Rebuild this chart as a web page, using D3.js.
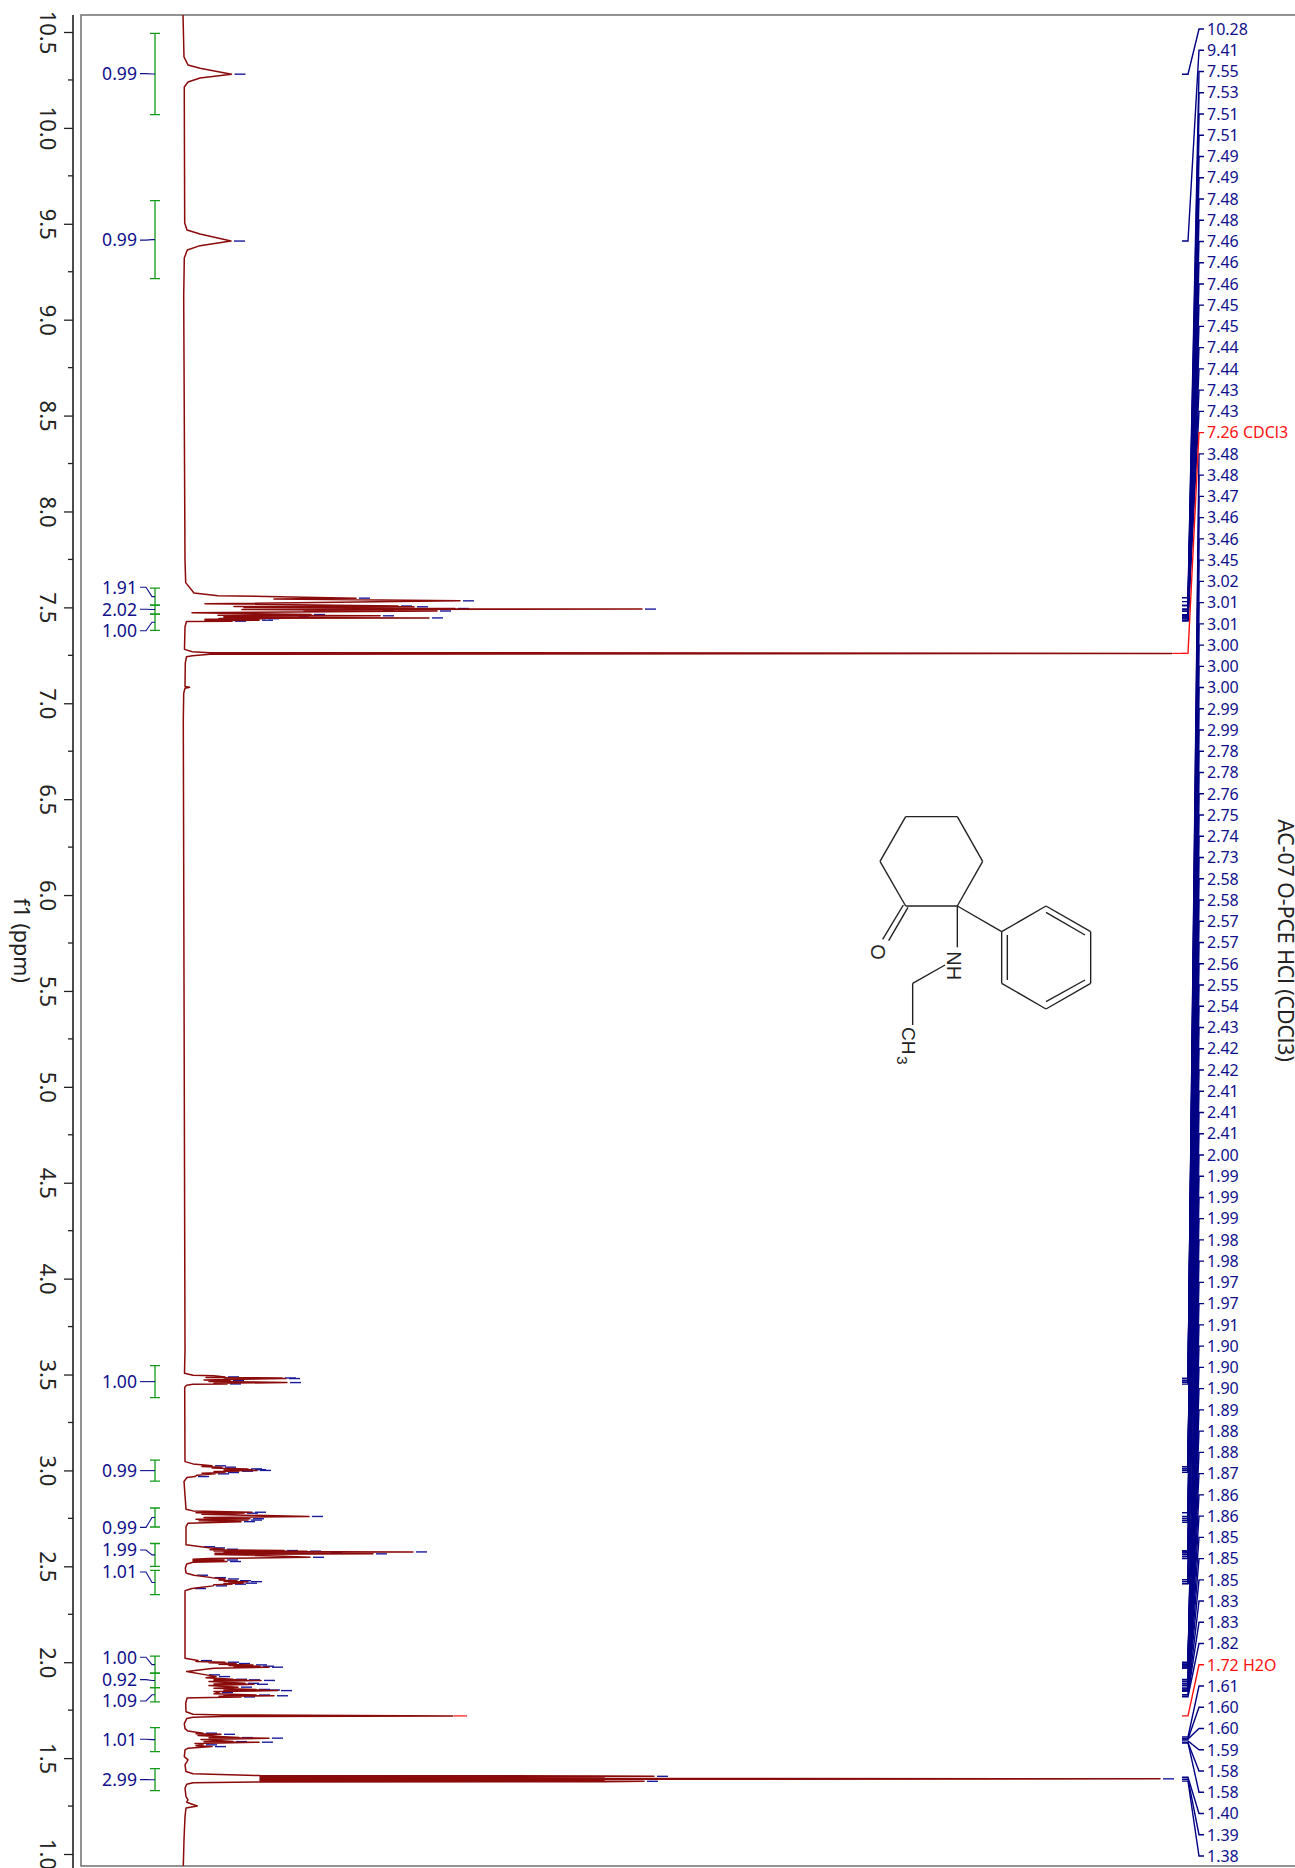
<!DOCTYPE html>
<html>
<head>
<meta charset="utf-8">
<style>
html,body{margin:0;padding:0;background:#fff;overflow:hidden}
svg{display:block}
text{font-family:"Noto Sans",sans-serif}
</style>
<script src="https://cdn.jsdelivr.net/npm/d3@7"></script>
</head>
<body>
<svg id="c" width="1295" height="1868"></svg>
<script>
// ---------- DATA ----------
const titleText = "AC-07 O-PCE HCl (CDCl3)";
const axisTitle = "f1 (ppm)";
const majorTicks = [10.5,10,9.5,9,8.5,8,7.5,7,6.5,6,5.5,5,4.5,4,3.5,3,2.5,2,1.5,1];
const minorTicks = [10.25,9.75,9.25,8.75,8.25,7.75,7.25,6.75,6.25,5.75,5.25,4.75,4.25,3.75,3.25,2.75,2.25,1.75,1.25];

// spectrum trace: chemical shift (ppm) and height
const specPpm = [10.589,10.370,10.328,10.311,10.280,10.260,10.239,10.213,10.145,9.504,9.468,9.447,9.410,9.386,9.363,9.322,9.118,7.747,7.629,7.575,7.561,7.552,7.548,7.543,7.534,7.519,7.507,7.5045,7.503,7.499,7.494,7.4925,7.491,7.489,7.484,7.4825,7.481,7.472,7.4625,7.459,7.456,7.453,7.4505,7.448,7.445,7.4425,7.441,7.4385,7.436,7.4345,7.433,7.4305,7.428,7.426,7.399,7.288,7.281,7.269,7.264,7.26,7.256,7.248,7.243,7.209,7.087,7.083,7.078,7.052,6.913,3.628,
3.507,3.496,3.493,3.4875,3.485,3.482,3.481,3.479,3.472,3.468,3.464,3.458,3.4545,3.451,3.449,3.444,3.434,3.046,3.034,3.024,3.021,3.017,3.013,3.008,3.006,3.004,3.002,3.000,2.998,2.996,2.994,2.989,2.985,2.982,2.975,2.968,2.963,2.942,2.798,2.789,2.782,2.7795,2.777,2.771,2.760,2.754,2.748,2.745,2.741,2.737,2.733,2.725,2.707,
2.612,2.602,2.596,2.589,2.586,2.582,2.5805,2.579,2.5775,2.575,2.573,2.571,2.568,2.565,2.562,2.553,2.547,2.541,2.537,2.533,2.529,2.525,2.521,2.5125,2.490,2.467,2.464,2.4535,2.441,2.434,2.429,2.425,2.422,2.420,2.416,2.412,2.410,2.407,2.404,2.398,2.391,2.384,2.377,2.372,2.361,
2.021,2.0085,2.004,2.000,1.997,1.993,1.990,1.986,1.983,1.979,1.976,1.974,1.969,1.951,1.934,1.925,1.919,1.911,1.909,1.908,1.9065,1.905,1.900,1.890,1.887,1.885,1.878,1.870,1.864,1.858,1.856,1.855,1.8535,1.852,1.847,1.8415,1.835,1.829,1.827,1.825,1.822,1.819,1.815,1.813,1.786,1.742,1.729,1.7252,1.72,1.7165,1.713,1.706,1.680,1.654,1.641,1.63,1.6275,1.624,1.618,1.607,1.606,1.604,1.597,1.586,1.585,1.583,1.576,1.569,1.565,1.56,1.552,1.543,1.508,1.491,1.465,1.430,1.418,1.409,1.407,1.405,1.402,1.400,1.396,1.392,1.388,1.386,1.383,1.379,1.377,1.376,1.372,1.364,1.343,1.299,1.282,1.270,1.250,1.240,1.195,1.074,0.938];
const specInt = [-1,0,4,16,47.5,16,4,0.3,0.3,0.7,3,16,47,16,3.3,0.3,-0.3,1,1.7,10,34,133,172,90,276,21,214,50,230,60,271,200,458,58,196,120,253,8,127,34,196,40,111,40,245,35,81,21,54,21,75,21,48,2.5,1,0.5,0.5,8.4,26,988,26,8.4,2.5,1.3,1,5.6,1,-0.3,-0.7,1,
0.5,9,30,41,22,98,40,102,20,46,25,103,30,43,9,2.7,0.7,1,9,28,18,38,28,64,40,68,45,73,40,55,30,41,18,31,13,11,3,0,2,9,68,12,60,18,125,20,66,12,64,15,57,4,2,
2,17,27,40,26,100,30,123,40,229,40,144,31,189,31,100,126,25,9,40,9,43,9,2.7,1.3,2,2.7,10,28,41,35,53,40,64,45,59,40,48,30,29,18,8,3,1,1,
1,14,12,41,25,52,35,69,45,76,50,85,30,2.7,22,32,22,49,30,62,30,77,25,61,30,70,25,54,30,72,40,82,40,94,30,35,30,72,40,90,35,57,12,3,1.7,2,9,39,269,39,9,2.7,0.3,1,4,19,12,37,14,55,25,85,17,49,20,75,11,19,12,28,4,1,0.3,4,1,2,9,76,420,470,76,420,76,976,76,420,76,460,420,76,9,2.7,1,2,4,2.7,13.3,2,1,0,-0.7];

// picked peaks: position and height at each tip
const peakPpm = [10.28,9.41,7.548,7.534,7.507,7.503,7.494,7.491,7.484,7.481,7.4625,7.456,7.4505,7.445,7.441,7.436,7.433,7.428,
3.4875,3.482,3.479,3.468,3.458,3.451,3.024,3.017,3.008,3.004,3.000,2.996,2.989,2.982,2.968,2.782,2.777,2.760,2.748,2.741,2.733,
2.602,2.596,2.589,2.582,2.579,2.575,2.571,2.565,2.547,2.533,2.525,2.4535,2.441,2.434,2.425,2.420,2.412,2.407,2.398,2.384,
2.0085,2.000,1.993,1.986,1.979,1.974,1.934,1.925,1.911,1.908,1.905,1.890,1.885,1.870,1.858,1.855,1.852,1.8415,1.829,1.825,1.819,1.63,1.624,1.607,1.604,1.586,1.583,1.569,1.56,1.405,1.392,1.379];
const peakInt = [47.5,47,172,276,214,230,271,458,196,253,127,196,111,245,81,54,75,48,
41,98,102,46,103,43,28,38,64,68,73,55,41,31,11,68,60,125,66,64,57,
17,27,40,100,123,229,144,189,126,40,43,10,28,41,53,64,59,48,29,8,
14,41,52,69,76,85,22,32,49,62,77,61,70,54,72,82,94,35,72,90,57,19,37,55,85,49,75,19,28,470,976,460];
const solventPpm = [7.26,1.72];
const solventInt = [988,269];

// peak labels, top to bottom
const peakLabels = ["10.28","9.41","7.55","7.53","7.51","7.51","7.49","7.49","7.48","7.48","7.46","7.46","7.46","7.45","7.45","7.44","7.44","7.43","7.43","7.26 CDCl3","3.48","3.48","3.47","3.46","3.46","3.45","3.02","3.01","3.01","3.00","3.00","3.00","2.99","2.99","2.78","2.78","2.76","2.75","2.74","2.73","2.58","2.58","2.57","2.57","2.56","2.55","2.54","2.43","2.42","2.42","2.41","2.41","2.41","2.00","1.99","1.99","1.99","1.98","1.98","1.97","1.97","1.91","1.90","1.90","1.90","1.89","1.88","1.88","1.87","1.86","1.86","1.85","1.85","1.85","1.83","1.83","1.82","1.72 H2O","1.61","1.60","1.60","1.59","1.58","1.58","1.40","1.39","1.38"];

// integrals: value, range in ppm, label anchor in ppm
const intValues = ["0.99","0.99","1.91","2.02","1.00","1.00","0.99","0.99","1.99","1.01","1.00","0.92","1.09","1.01","2.99"];
const intFrom  = [10.493,9.621,7.600,7.512,7.465,3.546,3.054,2.804,2.619,2.479,2.032,1.943,1.867,1.659,1.445];
const intTo    = [10.069,9.214,7.512,7.465,7.380,3.380,2.944,2.705,2.500,2.352,1.943,1.867,1.793,1.534,1.330];
const intLabel = [10.283,9.415,7.605,7.490,7.378,3.463,2.999,2.703,2.585,2.470,2.026,1.909,1.798,1.598,1.388];

// molecule drawing, in its own drawing units
const bondFrom = [[197,80],[352,80],[428,214],[352,348],[197,348],[120,214],[190,345],[204,352],[352,348],[352,348],[485,425],[618,348],[752,425],[752,580],[618,657],[485,580],[502,435],[618,367],[618,635],[315,525],[218,580]];
const bondTo   = [[352,80],[428,214],[352,348],[197,348],[120,214],[197,80],[128,448],[146,452],[485,425],[352,472],[618,348],[752,425],[752,580],[618,657],[485,580],[485,425],[502,570],[735,435],[735,570],[218,580],[218,705]];

// ---------- SCALES ----------
const svg = d3.select("#c");
const y = d3.scaleLinear().domain([10.5,1.0]).range([32,1854]);
const x = d3.scaleLinear().domain([0,1000]).range([184,1184]);
const row = d3.scalePoint().domain(d3.range(peakLabels.length)).range([29,1856]);
const molX = d3.scaleLinear().domain([0,900]).range([840,1140]);
const molY = d3.scaleLinear().domain([0,870]).range([790,1080]);

const BLUE = "#10108c", DARK = "#8b0a0a", GREEN = "#109a18", RED = "#ff1010";

// ---------- FRAME + AXIS ----------
svg.append("rect").attr("x",81).attr("y",15).attr("width",1400).attr("height",1851)
  .attr("fill","none").attr("stroke","#777").attr("stroke-width",1.6);

const axis = svg.append("g").attr("transform","translate(73,0)")
  .call(d3.axisLeft(y).tickValues(majorTicks).tickSize(9).tickFormat(d3.format(".1f")));
axis.select(".domain").attr("d","M0,15V1868").attr("stroke","#111").attr("stroke-width",1.5);
axis.selectAll(".tick line").attr("stroke","#222").attr("stroke-width",1.3);
axis.selectAll(".tick text")
  .attr("x",null).attr("y",null).attr("dy",null)
  .attr("text-anchor","middle")
  .attr("transform","translate(-33,0) rotate(90)")
  .style("font-size","22px").style("font-family",'"Noto Sans",sans-serif').attr("fill","#222");
axis.selectAll(".minor").data(minorTicks).enter().append("line").attr("class","minor")
  .attr("x1",-5).attr("x2",0).attr("y1",d=>y(d)).attr("y2",d=>y(d))
  .attr("stroke","#222").attr("stroke-width",1.3);

svg.append("text").text(axisTitle).attr("transform","translate(14,940.5) rotate(90)")
  .attr("text-anchor","middle").style("font-size","21.5px").attr("fill","#222");
svg.append("text").text(titleText).attr("transform","translate(1278,940.5) rotate(90)")
  .attr("text-anchor","middle").style("font-size","21.2px").attr("fill","#222");

// ---------- INTEGRALS ----------
const ig = svg.append("g");
intValues.forEach((v,i)=>{
  const y0=y(intFrom[i]), y1=y(intTo[i]), ly=y(intLabel[i]), mid=(y0+y1)/2;
  ig.append("path").attr("d",d3.line()([[150,y0],[160,y0]])+d3.line()([[155,y0],[155,y1]])+d3.line()([[150,y1],[160,y1]]))
    .attr("stroke",GREEN).attr("stroke-width",1.3).attr("fill","none");
  ig.append("path").attr("d",d3.line()([[140,ly],[146,ly],[152,mid],[155,mid]]))
    .attr("stroke",BLUE).attr("stroke-width",1.1).attr("fill","none");
  ig.append("text").text(v).attr("x",137).attr("y",ly).attr("dy",".36em").attr("text-anchor","end")
    .style("font-size","17.6px").attr("fill",BLUE);
});

// ---------- PEAK LABELS + CONNECTORS ----------
const lg = svg.append("g");
const connector = d3.line();
peakLabels.forEach((t,i)=>{
  const p = parseFloat(t), yp=y(p), yr=row(i), red=t.includes(" ");
  lg.append("path").attr("d",connector([[1182,yp],[1188,yp],[1199,yr],[1204,yr]]))
    .attr("fill","none").attr("stroke",red?RED:"#000085").attr("stroke-width",1.4)
    .attr("data-red",red?1:0);
  lg.append("text").text(t).attr("x",1207).attr("y",yr).attr("dy",".36em")
    .style("font-size","16px").attr("fill",red?RED:BLUE);
});
lg.selectAll("path[data-red='1']").raise();

// ---------- PEAK TICKS ----------
svg.append("g").selectAll("line").data(peakPpm).enter().append("line")
  .attr("x1",(d,i)=>x(peakInt[i])+3).attr("x2",(d,i)=>x(peakInt[i])+14)
  .attr("y1",d=>y(d)).attr("y2",d=>y(d))
  .attr("stroke","#1a1a9c").attr("stroke-width",1.4);
svg.append("g").selectAll("line").data(solventPpm).enter().append("line")
  .attr("x1",(d,i)=>x(solventInt[i])+1).attr("x2",(d,i)=>x(solventInt[i])+14)
  .attr("y1",d=>y(d)).attr("y2",d=>y(d))
  .attr("stroke",RED).attr("stroke-width",1.2);

// ---------- SPECTRUM ----------
svg.append("clipPath").attr("id","fr").append("rect").attr("x",81).attr("y",15).attr("width",1300).attr("height",1851);
const trace = d3.line().x((d,i)=>x(specInt[i])).y((d,i)=>y(specPpm[i]));
svg.append("path").datum(specPpm).attr("d",trace).attr("clip-path","url(#fr)")
  .attr("fill","none").attr("stroke",DARK).attr("stroke-width",1.5).attr("stroke-linejoin","round");

// ---------- MOLECULE ----------
const mol = svg.append("g");
mol.selectAll("line").data(bondFrom).enter().append("line")
  .attr("x1",d=>molX(d[0])).attr("y1",d=>molY(d[1]))
  .attr("x2",(d,i)=>molX(bondTo[i][0])).attr("y2",(d,i)=>molY(bondTo[i][1]))
  .attr("stroke","#222").attr("stroke-width",1.4);
const atom=(t,mx,my,fs)=>mol.append("text").text(t)
  .attr("transform",`translate(${molX(mx)},${molY(my)}) rotate(90)`)
  .attr("text-anchor","middle").style("font-family",'"Liberation Sans",sans-serif')
  .style("font-size",fs+"px").attr("fill","#222");
atom("O",92,486,20);
atom("NH",322,527,20);
atom("CH",187,752,19);
atom("3",170,811,15);
</script>
</body>
</html>
